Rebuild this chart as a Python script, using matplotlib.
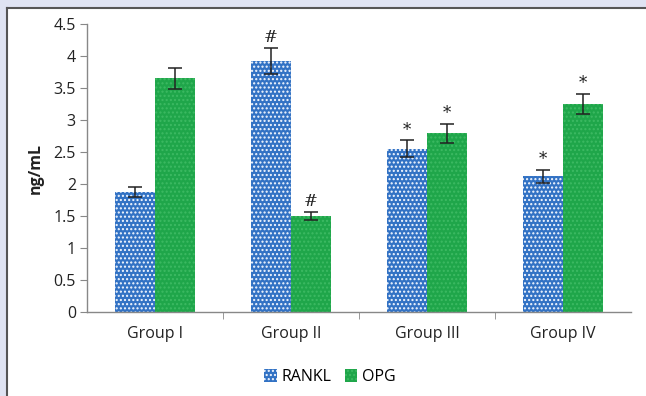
import matplotlib
matplotlib.use("Agg")
import matplotlib.pyplot as plt
from matplotlib.patches import Rectangle
import numpy as np

plt.rcParams['font.family'] = ['Open Sans', 'DejaVu Sans']
plt.rcParams['hatch.linewidth'] = 1.0

groups = ["Group I", "Group II", "Group III", "Group IV"]
rankl = [1.87, 3.92, 2.55, 2.12]
rankl_err = [0.08, 0.20, 0.13, 0.10]
opg = [3.65, 1.50, 2.79, 3.25]
opg_err = [0.17, 0.07, 0.15, 0.16]
rankl_marks = ["", "#", "*", "*"]
opg_marks = ["", "#", "*", "*"]

W, H = 646, 396
fig = plt.figure(figsize=(W / 100, H / 100), dpi=100)
fig.patch.set_facecolor("#dfe3f2")

# white inner panel with a dark rule on its top and left edges
px, ptop = 7 / W, 1 - 8 / H
fig.patches.append(Rectangle((px, -0.1), 1.2, ptop + 0.1, transform=fig.transFigure,
                             facecolor="white", edgecolor="none", zorder=-5))
fig.lines.append(plt.Line2D([px, 1.1], [ptop, ptop], transform=fig.transFigure,
                            color="#555555", lw=1.5, zorder=-4))
fig.lines.append(plt.Line2D([px, px], [-0.1, ptop], transform=fig.transFigure,
                            color="#555555", lw=1.5, zorder=-4))

ax = fig.add_axes([87 / W, 1 - 312 / H, (631 - 87) / W, (312 - 24) / H], zorder=1)
ax.set_facecolor("none")

x = np.arange(len(groups))
w = 0.295
blue = "#3272c4"
green = "#1fa64a"

b1 = ax.bar(x - w / 2, rankl, w, color=blue, edgecolor="#f4f8ff", hatch="....", lw=0,
            label="RANKL", zorder=2)
b2 = ax.bar(x + w / 2, opg, w, color=green, edgecolor="#3dba63", hatch="....", lw=0,
            label="OPG", zorder=2)

ax.errorbar(x - w / 2, rankl, yerr=rankl_err, fmt="none", ecolor="#222222",
            elinewidth=1.1, capsize=5, capthick=1.1, zorder=3)
ax.errorbar(x + w / 2, opg, yerr=opg_err, fmt="none", ecolor="#222222",
            elinewidth=1.1, capsize=5, capthick=1.1, zorder=3)

for xi, v, e, m in zip(x - w / 2, rankl, rankl_err, rankl_marks):
    if m:
        ax.text(xi, v + e + 0.03, m, ha="center", va="bottom", fontsize=12,
                family="DejaVu Serif", color="#222222")
for xi, v, e, m in zip(x + w / 2, opg, opg_err, opg_marks):
    if m:
        ax.text(xi, v + e + 0.03, m, ha="center", va="bottom", fontsize=12,
                family="DejaVu Serif", color="#222222")

ax.set_xlim(-0.5, len(groups) - 0.5)
ax.set_ylim(0, 4.5)
ax.set_yticks(np.arange(0, 4.51, 0.5))
ax.set_yticklabels(["0", "0.5", "1", "1.5", "2", "2.5", "3", "3.5", "4", "4.5"])
ax.set_xticks(x)
ax.set_xticklabels(groups)
ax.set_xticks(np.arange(0.5, len(groups) - 0.5, 1), minor=True)
ax.tick_params(axis="x", which="major", length=0, pad=10, labelsize=11.5, colors="#222222")
ax.tick_params(axis="x", which="minor", length=5, direction="out", color="#888888")
ax.tick_params(axis="y", length=5, direction="out", color="#888888", labelsize=11.5,
               labelcolor="#222222", pad=3)

for s in ["top", "right"]:
    ax.spines[s].set_visible(False)
for s in ["left", "bottom"]:
    ax.spines[s].set_color("#888888")
    ax.spines[s].set_linewidth(1)

ax.set_ylabel("ng/mL", fontsize=11.5, fontweight="bold", color="#222222", labelpad=7)

fig.legend(handles=[b1, b2], labels=["RANKL", "OPG"], loc="center",
           bbox_to_anchor=(330 / W, 1 - 377 / H), ncol=2, frameon=False,
           fontsize=11.5, handlelength=0.8, handleheight=0.8, handletextpad=0.3,
           columnspacing=0.8)

fig.savefig("out.png", dpi=100, facecolor=fig.get_facecolor())
